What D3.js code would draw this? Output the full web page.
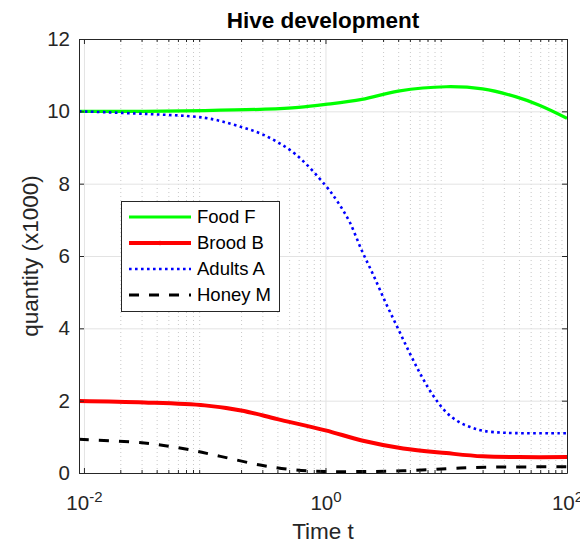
<!DOCTYPE html>
<html><head><meta charset="utf-8">
<script src="https://cdn.jsdelivr.net/npm/d3@7"></script>
<style>
body{margin:0;background:#fff;}
svg{display:block;font-family:"Liberation Sans",Arial,Helvetica,sans-serif;}
</style></head>
<body><svg id="c" width="580" height="545"></svg>
<script>
// ---- data ----
const seriesNames = ["Food F","Brood B","Adults A","Honey M"];
const foodT  = [0.0091,0.0316,0.1,0.316,0.6,1,2,4,10,20,38,59,100];
const foodV  = [10.0,10.0,10.02,10.06,10.11,10.19,10.33,10.56,10.68,10.62,10.40,10.17,9.81];
const broodT = [0.0091,0.0316,0.1,0.2,0.4,1,2,4.4,10,20,40,100];
const broodV = [1.99,1.95,1.87,1.73,1.49,1.18,0.9,0.68,0.55,0.46,0.44,0.44];
const adultT = [0.0091,0.0316,0.1,0.178,0.316,0.562,1,1.26,1.58,2,2.51,3.16,3.98,5.01,6.31,7.94,10,12.6,15.8,20,31.6,100];
const adultV = [10.0,9.93,9.82,9.62,9.33,8.82,7.95,7.5,6.95,6.15,5.45,4.7,4.0,3.3,2.65,2.1,1.68,1.42,1.27,1.17,1.11,1.1];
const honeyT = [0.0091,0.0316,0.0676,0.135,0.288,0.55,1,2,4.4,10,21,100];
const honeyV = [0.93,0.83,0.67,0.46,0.22,0.09,0.04,0.04,0.06,0.12,0.16,0.17];
const yTicks = [0,2,4,6,8,10,12];
const xTicks = [0.01,1,100];
const xTickExp = ["-2","0","2"];

// ---- layout ----
const L=79,R=567,T=39,B=473;
const svg=d3.select("#c");
const x=d3.scaleLog().domain([0.0091,100]).range([L,R]);
const y=d3.scaleLinear().domain([0,12]).range([B,T]);
const axisCol="#262626";

// minor x ticks
const minor=[];
for(let e=-3;e<2;e++)for(let k=2;k<=9;k++){const v=k*Math.pow(10,e);if(v>=0.0091&&v<=100)minor.push(v);}

// grids
const gMinor=svg.append("g").attr("transform",`translate(0,${B})`)
  .call(d3.axisBottom(x).tickValues(minor).tickSize(-(B-T)).tickFormat(""));
gMinor.select(".domain").remove();
gMinor.selectAll("line").attr("stroke","#c8c8c8").attr("stroke-dasharray","1,3");
const gMajX=svg.append("g").attr("transform",`translate(0,${B})`)
  .call(d3.axisBottom(x).tickValues(xTicks).tickSize(-(B-T)).tickFormat(""));
gMajX.select(".domain").remove();
gMajX.selectAll("line").attr("stroke","#e3e3e3");
const gMajY=svg.append("g").attr("transform",`translate(${L},0)`)
  .call(d3.axisLeft(y).tickValues(yTicks).tickSize(-(R-L)).tickFormat(""));
gMajY.select(".domain").remove();
gMajY.selectAll("line").attr("stroke","#e3e3e3");

// lines
const clip=svg.append("clipPath").attr("id","clp").append("rect")
  .attr("x",L).attr("y",T).attr("width",R-L).attr("height",B-T);
const line=d3.line().x(d=>x(d[0])).y(d=>y(d[1])).curve(d3.curveCatmullRom.alpha(0.5));
const zip=(a,b)=>a.map((t,i)=>[t,b[i]]);
const styles=[
  {d:zip(foodT,foodV),c:"#00ff00",w:3.2,da:null},
  {d:zip(broodT,broodV),c:"#ff0000",w:4,da:null},
  {d:zip(adultT,adultV),c:"#0000ff",w:2.6,da:"2.6,3.4"},
  {d:zip(honeyT,honeyV),c:"#000000",w:3,da:"10,10"}
];
const gl=svg.append("g").attr("clip-path","url(#clp)");
styles.forEach(s=>{
  gl.append("path").attr("d",line(s.d)).attr("fill","none")
    .attr("stroke",s.c).attr("stroke-width",s.w)
    .attr("stroke-dasharray",s.da);
});

// axes (ticks inward on all sides)
function styleAxis(g){g.select(".domain").attr("stroke",axisCol).attr("stroke-width",1);
  g.selectAll(".tick line").attr("stroke",axisCol);}
const xb=svg.append("g").attr("transform",`translate(0,${B})`)
  .call(d3.axisBottom(x).tickValues(xTicks).tickSizeInner(-5).tickSizeOuter(0).tickPadding(24).tickFormat((d,i)=>"10"));
styleAxis(xb);
xb.selectAll(".tick text").each(function(d,i){
  const t=d3.select(this);t.text(null).attr("fill",axisCol).attr("font-size",20.5).attr("dy",null).attr("y",37);
  t.append("tspan").text("10");
  t.append("tspan").text(xTickExp[i]).attr("font-size",15).attr("dy",-8);
});
const xbm=svg.append("g").attr("transform",`translate(0,${B})`)
  .call(d3.axisBottom(x).tickValues(minor).tickSize(-3).tickFormat(""));
xbm.select(".domain").remove();xbm.selectAll("line").attr("stroke",axisCol);
const xt=svg.append("g").attr("transform",`translate(0,${T})`)
  .call(d3.axisTop(x).tickValues(xTicks).tickSizeInner(-5).tickSizeOuter(0).tickFormat(""));
styleAxis(xt);
const xtm=svg.append("g").attr("transform",`translate(0,${T})`)
  .call(d3.axisTop(x).tickValues(minor).tickSize(-3).tickFormat(""));
xtm.select(".domain").remove();xtm.selectAll("line").attr("stroke",axisCol);
const yl=svg.append("g").attr("transform",`translate(${L},0)`)
  .call(d3.axisLeft(y).tickValues(yTicks).tickSizeInner(-5).tickSizeOuter(0).tickPadding(9));
styleAxis(yl);
yl.selectAll(".tick text").attr("font-size",20.5).attr("fill",axisCol);
const yr=svg.append("g").attr("transform",`translate(${R},0)`)
  .call(d3.axisRight(y).tickValues(yTicks).tickSizeInner(-5).tickSizeOuter(0).tickFormat(""));
styleAxis(yr);
xb.attr("font-family",null);yl.attr("font-family",null);

// titles
svg.append("text").attr("x",(L+R)/2).attr("y",28).attr("text-anchor","middle")
  .attr("font-size",22.5).attr("font-weight","bold").attr("fill","#000").text("Hive development");
svg.append("text").attr("x",(L+R)/2).attr("y",539).attr("text-anchor","middle")
  .attr("font-size",22.5).attr("fill",axisCol).text("Time t");
svg.append("text").attr("transform",`translate(38,${(T+B)/2}) rotate(-90)`).attr("text-anchor","middle")
  .attr("font-size",22.5).attr("fill",axisCol).text("quantity (x1000)");

// legend
const lg=svg.append("g");
lg.append("rect").attr("x",121.5).attr("y",201.5).attr("width",158).attr("height",110)
  .attr("fill","#fff").attr("stroke",axisCol).attr("stroke-width",1);
styles.forEach((s,i)=>{
  const yy=217+i*26;
  lg.append("line").attr("x1",129).attr("x2",191).attr("y1",yy).attr("y2",yy)
    .attr("stroke",s.c).attr("stroke-width",s.w).attr("stroke-dasharray",s.da);
  if(i===1) lg.append("circle").attr("cx",160).attr("cy",yy).attr("r",2.3).attr("fill",s.c);
  lg.append("text").attr("x",197).attr("y",yy).attr("dy","0.35em").attr("font-size",18.5)
    .attr("fill","#000").text(seriesNames[i]);
});
</script></body></html>
